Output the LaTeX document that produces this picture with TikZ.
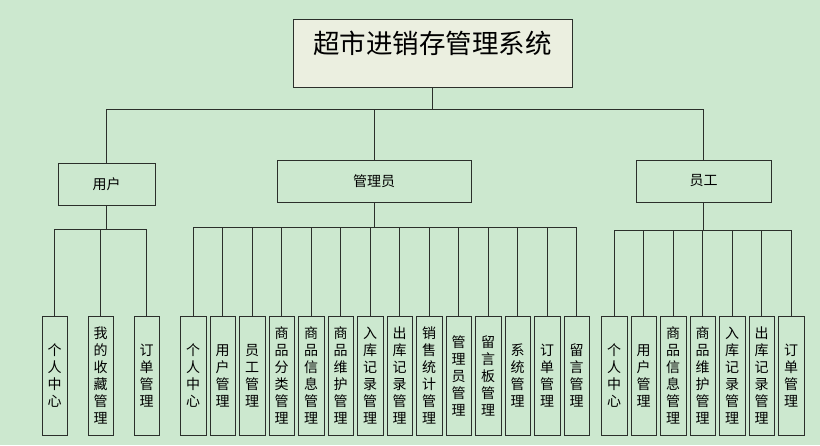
\documentclass[tikz,border=0pt]{standalone}
\usepackage{fontspec}
\setmainfont{Noto Sans CJK SC}
\usepackage{xcolor}
\definecolor{eyegreen}{HTML}{CCE8CF}
\definecolor{titlepaper}{HTML}{EBEFE0}
\definecolor{edgegray}{HTML}{2B2F2B}

\tikzset{
    titlebox/.style={draw=edgegray, fill=titlepaper, minimum width=279pt, minimum height=68pt, inner sep=0pt},
    rolebox/.style={draw=edgegray, fill=eyegreen, minimum height=42pt, inner sep=0pt, font=\fontsize{14}{17}\selectfont},
    leafbox/.style={draw=edgegray, fill=eyegreen, minimum width=25.5pt, minimum height=119pt, inner sep=0pt, align=center, font=\fontsize{14}{17}\selectfont},
    link/.style={draw=edgegray, line width=1pt}
}

\begin{document}
\begin{tikzpicture}[x=1pt, y=-1pt]
                \fill[eyegreen] (0,0) rectangle (820,445);
                \useasboundingbox (0,0) rectangle (820,445);

                \node[titlebox] (title) at (432.5,53) {};
                \node[font=\fontsize{26.5}{30}\selectfont] (titletext) at (432.5,43) {超市进销存管理系统};

                \node[rolebox, minimum width=97pt] (user) at (106.5,184) {用户};
                \node[rolebox, minimum width=194pt] (admin) at (374,181) {管理员};
                \node[rolebox, minimum width=135pt] (staff) at (703.5,181) {员工};

                \coordinate (topbar) at (432.5,109);
                \coordinate (userbar) at (106.5,229);
                \coordinate (adminbar) at (374,227);
                \coordinate (staffbar) at (703.5,230);

                \draw[link] (title.south) -- (topbar);
                \draw[link] (user.north |- topbar) -- (staff.north |- topbar);
                \draw[link] (user.north) -- (user.north |- topbar);
                \draw[link] (admin.north) -- (admin.north |- topbar);
                \draw[link] (staff.north) -- (staff.north |- topbar);

                \draw[link] (user.south) -- (userbar);
                \draw[link] (admin.south) -- (adminbar);
                \draw[link] (staff.south) -- (staffbar);

                \foreach \t [count=\i from 0] in {{个\\人\\中\\心}, {我\\的\\收\\藏\\管\\理}, {订\\单\\管\\理}} {
                    \node[leafbox] (u\i) at ({54.5+46*\i},375.5) {\t};
                    \draw[link] (u\i.north) -- (u\i.north |- userbar);
                }
                \draw[link] (u0.north |- userbar) -- (u2.north |- userbar);

                \foreach \t [count=\i from 0] in {{个\\人\\中\\心}, {用\\户\\管\\理}, {员\\工\\管\\理}, {商\\品\\分\\类\\管\\理}, {商\\品\\信\\息\\管\\理}, {商\\品\\维\\护\\管\\理}, {入\\库\\记\\录\\管\\理}, {出\\库\\记\\录\\管\\理}, {销\\售\\统\\计\\管\\理}, {管\\理\\员\\管\\理}, {留\\言\\板\\管\\理}, {系\\统\\管\\理}, {订\\单\\管\\理}, {留\\言\\管\\理}} {
                    \node[leafbox] (a\i) at ({193+29.5*\i},375.5) {\t};
                    \draw[link] (a\i.north) -- (a\i.north |- adminbar);
                }
                \draw[link] (a0.north |- adminbar) -- (a13.north |- adminbar);

                \foreach \t [count=\i from 0] in {{个\\人\\中\\心}, {用\\户\\管\\理}, {商\\品\\信\\息\\管\\理}, {商\\品\\维\\护\\管\\理}, {入\\库\\记\\录\\管\\理}, {出\\库\\记\\录\\管\\理}, {订\\单\\管\\理}} {
                    \node[leafbox] (s\i) at ({614+29.5*\i},375.5) {\t};
                    \draw[link] (s\i.north) -- (s\i.north |- staffbar);
                }
                \draw[link] (s0.north |- staffbar) -- (s6.north |- staffbar);
\end{tikzpicture}
\end{document}
